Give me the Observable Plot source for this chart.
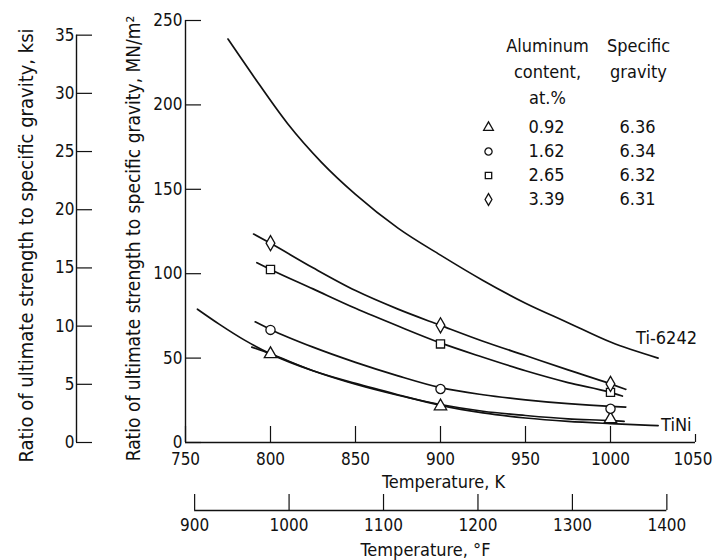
<!DOCTYPE html>
<html><head><meta charset="utf-8">
<script src="https://cdn.jsdelivr.net/npm/d3@7"></script>
<script src="https://cdn.jsdelivr.net/npm/@observablehq/plot@0.6"></script>
<style>
html,body{margin:0;padding:0;background:#fff;}
#chart{width:713px;height:560px;}
</style></head><body><div id="chart"></div>
<script>
const FONT = '"Liberation Sans Narrow","DejaVu Sans Condensed","Roboto Condensed",sans-serif';

// Axis ticks
const kTicks = [750, 800, 850, 900, 950, 1000];
const kEndTick = [1050];
const fTicks = [900, 1000, 1100, 1200, 1300, 1400];
const mnTicks = [0, 50, 100, 150, 200, 250];
const ksiTicks = [0, 5, 10, 15, 20, 25, 30, 35];

// Legend
const alContent = ["0.92", "1.62", "2.65", "3.39"];
const specGravity = ["6.36", "6.34", "6.32", "6.31"];
const symbols = ["triangle", "circle", "square", "diamond"];

// Measured points (temperature K, ratio MN/m^2)
const testTemps = [800, 900, 1000];
const pts092 = [52.4, 21.5, 13.9];
const pts162 = [66.7, 31.7, 20.0];
const pts265 = [102.5, 58.4, 29.7];
const pts339 = [118.1, 69.4, 34.7];

// Faired curves: [K, MN/m^2]
const curve092 = [[789,56.5],[800,52.5],[825,42.5],[850,34.5],[875,28],[900,22.5],[925,18.5],[950,16],[975,14],[1000,13],[1008,12.5]];
const curve162 = [[791,71.5],[800,67],[825,56.5],[850,47.5],[875,39.5],[900,32.5],[925,28.3],[950,25.3],[975,23],[1000,21.4],[1009,21]];
const curve265 = [[792,106.5],[800,102.5],[825,91],[850,79.5],[875,69],[900,59],[925,50.5],[950,42.5],[975,35.5],[1000,29.7],[1007,27.5]];
const curve339 = [[790,123.5],[800,118],[825,103.5],[850,90],[875,79],[900,69.4],[925,60],[950,51.5],[975,43],[1000,34.7],[1009,31.5]];
const curveTiNi = [[757,79],[770,70],[785,60.5],[800,52.5],[825,42.5],[850,35],[875,28.3],[900,22],[925,17.5],[950,14.5],[975,12.5],[1000,11.2],[1028,10]];
const curveTi6242 = [[775,239],[790,217],[810,189],[830,166],[850,147],[875,127],[900,111],[925,96],[950,82.5],[975,71],[1000,59.5],[1028,50]];

const KSI = 6.89476; // MN/m^2 per ksi
const fToK = f => (f - 32) * 5 / 9 + 273.15;
const kToF = k => (k - 273.15) * 9 / 5 + 32;

const lineOpts = {x: d => d[0], y: d => d[1], stroke: "#111", strokeWidth: 1.7, curve: "monotone-x"};
const fitted = [curve092, curve162, curve265, curve339];
const pointSets = [pts092, pts162, pts265, pts339];
const axisCommon = {label: null, strokeWidth: 1.2, fontSize: 17};

const marks = [
  // axis lines
  Plot.ruleX([750], {y1: 0, y2: 250, strokeWidth: 1.4}),
  Plot.ruleY([0], {x1: 750, x2: 1050, strokeWidth: 1.4}),
  Plot.ruleX([750], {y1: 0, y2: 35 * KSI, dx: -109, strokeWidth: 1.4}),
  Plot.ruleY([0], {x1: fToK(900), x2: fToK(1400), dy: 68, strokeWidth: 1.4}),
  // axes
  Plot.axisY(mnTicks, {...axisCommon, anchor: "left", tickSize: -16, tickPadding: 19, tickFormat: d => String(d)}),
  Plot.axisY(ksiTicks.map(k => k * KSI), {...axisCommon, anchor: "left", dx: -109, tickSize: -16, tickPadding: 18,
    tickFormat: d => String(Math.round(d / KSI))}),
  Plot.axisX(kTicks, {...axisCommon, anchor: "bottom", tickSize: -16, tickPadding: 26, tickFormat: d => String(d)}),
  Plot.axisX(kEndTick, {...axisCommon, anchor: "bottom", tickSize: -8, tickFormat: () => ""}),
  Plot.axisX(kEndTick, {...axisCommon, anchor: "bottom", tickSize: 0, tickPadding: 10, tickFormat: d => String(d), textAnchor: "end", dx: 17}),
  Plot.axisX(fTicks.map(fToK), {...axisCommon, anchor: "bottom", dy: 68, tickSize: -16, tickPadding: 24,
    tickFormat: d => String(Math.round(kToF(d)))}),
  // axis titles
  Plot.text(["Ratio of ultimate strength to specific gravity, MN/m²"], {frameAnchor: "left", textAnchor: "middle", lineAnchor: "middle", rotate: -90, dx: -52, dy: 7, fontSize: 19}),
  Plot.text(["Ratio of ultimate strength to specific gravity, ksi"], {frameAnchor: "left", textAnchor: "middle", lineAnchor: "middle", rotate: -90, dx: -159, dy: 14, fontSize: 20}),
  Plot.text(["Temperature, K"], {frameAnchor: "bottom", lineAnchor: "middle", dx: 3, dy: 40, fontSize: 18}),
  Plot.text(["Temperature, °F"], {frameAnchor: "bottom", lineAnchor: "middle", dx: -15, dy: 108, fontSize: 18}),
  // curves
  Plot.line(curveTi6242, lineOpts),
  Plot.line(curveTiNi, lineOpts),
  ...fitted.map(c => Plot.line(c, lineOpts)),
  // curve labels
  Plot.text([curveTi6242[curveTi6242.length - 1]], {x: d => d[0], y: d => d[1], text: () => "Ti-6242", textAnchor: "start", dx: -22, dy: -20, fontSize: 18}),
  Plot.text([curveTiNi[curveTiNi.length - 1]], {x: d => d[0], y: d => d[1], text: () => "TiNi", textAnchor: "start", dx: 3, dy: 0, fontSize: 18}),
  // measured points
  ...pointSets.map((p, i) => Plot.dot(testTemps.map((t, j) => ({t, v: p[j]})),
    {x: "t", y: "v", symbol: () => symbols[i], r: 4.6, fill: "white", stroke: "#111", strokeWidth: 1.3})),
  // legend
  Plot.text(["Aluminum\ncontent,\nat.%"], {frameAnchor: "top-left", textAnchor: "middle", dx: 362, dy: 13, lineAnchor: "top", lineHeight: 1.45, fontSize: 18}),
  Plot.text(["Specific\ngravity"], {frameAnchor: "top-left", textAnchor: "middle", dx: 453, dy: 13, lineAnchor: "top", lineHeight: 1.45, fontSize: 18}),
  ...symbols.map((s, i) => Plot.dot([s], {frameAnchor: "top-left", dx: 303, dy: 107 + i * 24, symbol: () => s, r: 3.6, fill: "white", stroke: "#111", strokeWidth: 1.3})),
  ...alContent.map((a, i) => Plot.text([a], {frameAnchor: "top-left", textAnchor: "middle", lineAnchor: "middle", dx: 361, dy: 107 + i * 24, fontSize: 18})),
  ...specGravity.map((g, i) => Plot.text([g], {frameAnchor: "top-left", textAnchor: "middle", lineAnchor: "middle", dx: 452, dy: 107 + i * 24, fontSize: 18}))
];

const chart = Plot.plot({
  width: 713,
  height: 560,
  marginLeft: 185,
  marginRight: 18,
  marginTop: 20,
  marginBottom: 118,
  x: {domain: [750, 1050], axis: null},
  y: {domain: [0, 250], axis: null},
  symbol: {type: "identity"},
  style: {fontFamily: FONT, fontSize: "18px", color: "#111", background: "white"},
  marks
});
document.getElementById("chart").appendChild(chart);
</script>
</body></html>
